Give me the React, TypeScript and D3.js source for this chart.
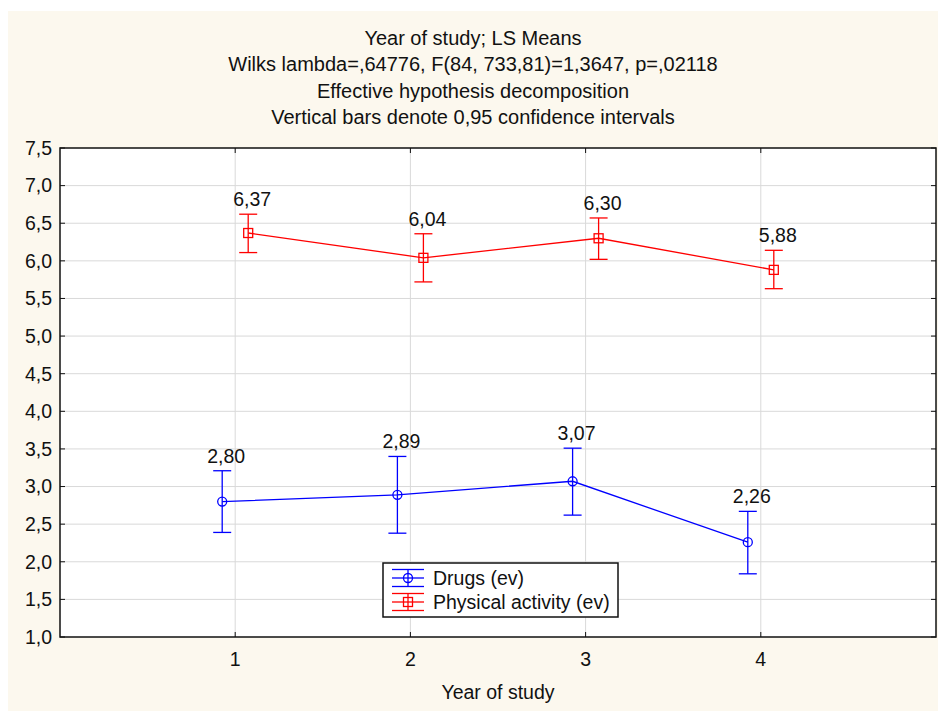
import { useEffect, useRef } from 'react';
import * as d3 from 'd3';

const TITLE_LINES = [
  'Year of study; LS Means',
  'Wilks lambda=,64776, F(84, 733,81)=1,3647, p=,02118',
  'Effective hypothesis decomposition',
  'Vertical bars denote 0,95 confidence intervals',
];

const YEARS = [1, 2, 3, 4];
const Y_TICKS = [1, 1.5, 2, 2.5, 3, 3.5, 4, 4.5, 5, 5.5, 6, 6.5, 7, 7.5];

const DRUGS_MEAN = [2.8, 2.89, 3.07, 2.26];
const DRUGS_LOW = [2.39, 2.38, 2.62, 1.84];
const DRUGS_HIGH = [3.21, 3.4, 3.51, 2.67];

const PHYS_MEAN = [6.37, 6.04, 6.3, 5.88];
const PHYS_LOW = [6.11, 5.72, 6.02, 5.63];
const PHYS_HIGH = [6.62, 6.36, 6.57, 6.14];

const SERIES = [
  { name: 'Drugs (ev)', color: '#0000ff', marker: 'circle', offset: -13, mean: DRUGS_MEAN, low: DRUGS_LOW, high: DRUGS_HIGH },
  { name: 'Physical activity (ev)', color: '#ff0000', marker: 'square', offset: 13, mean: PHYS_MEAN, low: PHYS_LOW, high: PHYS_HIGH },
];

const FONT = '"Liberation Sans", Arial, sans-serif';
const FS = 19.5;
const fmt = (v: number) => v.toFixed(2).replace('.', ',');
const fmt1 = (v: number) => v.toFixed(1).replace('.', ',');

export default function App() {
  const svgRef = useRef<SVGSVGElement>(null);

  useEffect(() => {
    const svg = d3.select(svgRef.current);
    svg.selectAll('*').remove();

    const left = 60, right = 936, top = 148, bottom = 637;
    const x = d3.scaleLinear().domain([0, 5]).range([left, right]);
    const y = d3.scaleLinear().domain([1, 7.5]).range([bottom, top]);

    // backgrounds
    svg.append('rect').attr('x', 8).attr('y', 11).attr('width', 930).attr('height', 700).attr('fill', '#fcf8ee');
    svg.append('rect').attr('x', left).attr('y', top).attr('width', right - left).attr('height', bottom - top).attr('fill', '#ffffff');

    // titles
    svg.append('g')
      .selectAll('text')
      .data(TITLE_LINES)
      .enter()
      .append('text')
      .attr('x', 473)
      .attr('y', (d, i) => 44.5 + i * 26.5)
      .attr('text-anchor', 'middle')
      .attr('font-family', FONT)
      .attr('font-size', 20)
      .attr('fill', '#111')
      .text((d) => d);

    // grid
    const grid = svg.append('g').attr('stroke', '#d9d9d9').attr('stroke-width', 1);
    grid.selectAll('line.h').data(Y_TICKS.slice(1, -1)).enter().append('line')
      .attr('x1', left).attr('x2', right)
      .attr('y1', (d) => y(d)).attr('y2', (d) => y(d));
    grid.selectAll('line.v').data(YEARS).enter().append('line')
      .attr('y1', top).attr('y2', bottom)
      .attr('x1', (d) => x(d)).attr('x2', (d) => x(d));

    // ticks (inward, mirrored)
    const ticks = svg.append('g').attr('stroke', '#111').attr('stroke-width', 1);
    Y_TICKS.forEach((t) => {
      ticks.append('line').attr('x1', left).attr('x2', left + 5).attr('y1', y(t)).attr('y2', y(t));
      ticks.append('line').attr('x1', right).attr('x2', right - 5).attr('y1', y(t)).attr('y2', y(t));
    });
    YEARS.forEach((t) => {
      ticks.append('line').attr('y1', bottom).attr('y2', bottom - 5).attr('x1', x(t)).attr('x2', x(t));
      ticks.append('line').attr('y1', top).attr('y2', top + 5).attr('x1', x(t)).attr('x2', x(t));
    });

    // tick labels
    svg.append('g').selectAll('text').data(Y_TICKS).enter().append('text')
      .attr('x', left - 8).attr('y', (d) => y(d)).attr('dy', '0.35em')
      .attr('text-anchor', 'end').attr('font-family', FONT).attr('font-size', FS).attr('fill', '#111')
      .text((d) => fmt1(d));
    svg.append('g').selectAll('text').data(YEARS).enter().append('text')
      .attr('x', (d) => x(d)).attr('y', 666)
      .attr('text-anchor', 'middle').attr('font-family', FONT).attr('font-size', FS).attr('fill', '#111')
      .text((d) => String(d));
    svg.append('text')
      .attr('x', x(2.5)).attr('y', 699)
      .attr('text-anchor', 'middle').attr('font-family', FONT).attr('font-size', FS).attr('fill', '#111')
      .text('Year of study');

    // series
    SERIES.forEach((s) => {
      const g = svg.append('g');
      const px = (i: number) => x(YEARS[i]) + s.offset;
      const line = d3.line<number>().x((d, i) => px(i)).y((d) => y(d));
      g.append('path').attr('d', line(s.mean)).attr('fill', 'none').attr('stroke', s.color).attr('stroke-width', 1.3);
      s.mean.forEach((m, i) => {
        const cx = px(i);
        g.append('line').attr('x1', cx).attr('x2', cx).attr('y1', y(s.low[i])).attr('y2', y(s.high[i]))
          .attr('stroke', s.color).attr('stroke-width', 1.3);
        [s.low[i], s.high[i]].forEach((v) => {
          g.append('line').attr('x1', cx - 9).attr('x2', cx + 9).attr('y1', y(v)).attr('y2', y(v))
            .attr('stroke', s.color).attr('stroke-width', 1.3);
        });
        if (s.marker === 'circle') {
          g.append('circle').attr('cx', cx).attr('cy', y(m)).attr('r', 4.5)
            .attr('fill', 'none').attr('stroke', s.color).attr('stroke-width', 1.3);
        } else {
          g.append('rect').attr('x', cx - 4.5).attr('y', y(m) - 4.5).attr('width', 9).attr('height', 9)
            .attr('fill', 'none').attr('stroke', s.color).attr('stroke-width', 1.3);
        }
        g.append('text').attr('x', cx + 4).attr('y', y(s.high[i]) - 8)
          .attr('text-anchor', 'middle').attr('font-family', FONT).attr('font-size', FS).attr('fill', '#111')
          .text(fmt(m));
      });
    });

    // frame
    svg.append('rect').attr('x', left).attr('y', top).attr('width', right - left).attr('height', bottom - top)
      .attr('fill', 'none').attr('stroke', '#111').attr('stroke-width', 1.5);

    // legend
    const lg = svg.append('g');
    lg.append('rect').attr('x', 383).attr('y', 563).attr('width', 235).attr('height', 54)
      .attr('fill', '#ffffff').attr('stroke', '#111').attr('stroke-width', 1.5);
    SERIES.forEach((s, i) => {
      const cy = 578 + i * 24;
      const cx = 408;
      [-8.5, 0, 8.5].forEach((dy) => {
        lg.append('line').attr('x1', cx - 16).attr('x2', cx + 16).attr('y1', cy + dy).attr('y2', cy + dy)
          .attr('stroke', s.color).attr('stroke-width', 1.3);
      });
      lg.append('line').attr('x1', cx).attr('x2', cx).attr('y1', cy - 8.5).attr('y2', cy + 8.5).attr('stroke', s.color).attr('stroke-width', 1.3);
      if (s.marker === 'circle') {
        lg.append('circle').attr('cx', cx).attr('cy', cy).attr('r', 4.5).attr('fill', 'none').attr('stroke', s.color).attr('stroke-width', 1.3);
      } else {
        lg.append('rect').attr('x', cx - 4.5).attr('y', cy - 4.5).attr('width', 9).attr('height', 9).attr('fill', 'none').attr('stroke', s.color).attr('stroke-width', 1.3);
      }
      lg.append('text').attr('x', 433).attr('y', cy).attr('dy', '0.35em')
        .attr('font-family', FONT).attr('font-size', FS).attr('fill', '#111').text(s.name);
    });
  }, []);

  return (
    <svg
      ref={svgRef}
      width={938}
      height={711}
      style={{ position: 'absolute', left: 0, top: 0, display: 'block', background: '#ffffff' }}
    />
  );
}
